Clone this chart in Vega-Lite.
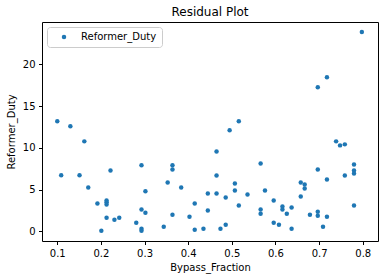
{
  "$schema": "https://vega.github.io/schema/vega-lite/v6.json",
  "width": 336,
  "height": 219,
  "autosize": {"type": "none"},
  "padding": {"left": 42, "top": 22, "right": 5, "bottom": 38},
  "background": "white",
  "title": {"text": "Residual Plot", "fontSize": 12, "fontWeight": "normal", "font": "DejaVu Sans", "color": "#000", "offset": 3},
  "config": {
    "view": {"stroke": "#000", "strokeWidth": 1},
    "axis": {"grid": false, "domain": false, "tickColor": "#000", "tickSize": 3.5, "labelFont": "DejaVu Sans", "labelFontSize": 10, "labelColor": "#000", "titleFont": "DejaVu Sans", "titleFontSize": 10, "titleFontWeight": "normal", "titleColor": "#000", "labelPadding": 3.5},
    "legend": {"orient": "top-left", "offset": 5, "padding": 5, "strokeColor": "#cccccc", "fillColor": "white", "cornerRadius": 3, "labelFont": "DejaVu Sans", "labelFontSize": 10, "labelColor": "#000", "symbolSize": 20, "symbolType": "circle", "symbolOffset": 7, "labelOffset": 12, "title": null}
  },
  "data": {"values": [
    {"Bypass_Fraction": 0.100, "Reformer_Duty": 13.17, "s": "Reformer_Duty"},
    {"Bypass_Fraction": 0.130, "Reformer_Duty": 12.57, "s": "Reformer_Duty"},
    {"Bypass_Fraction": 0.162, "Reformer_Duty": 10.77, "s": "Reformer_Duty"},
    {"Bypass_Fraction": 0.293, "Reformer_Duty": 7.92, "s": "Reformer_Duty"},
    {"Bypass_Fraction": 0.109, "Reformer_Duty": 6.72, "s": "Reformer_Duty"},
    {"Bypass_Fraction": 0.151, "Reformer_Duty": 6.72, "s": "Reformer_Duty"},
    {"Bypass_Fraction": 0.222, "Reformer_Duty": 7.29, "s": "Reformer_Duty"},
    {"Bypass_Fraction": 0.171, "Reformer_Duty": 5.25, "s": "Reformer_Duty"},
    {"Bypass_Fraction": 0.302, "Reformer_Duty": 4.80, "s": "Reformer_Duty"},
    {"Bypass_Fraction": 0.192, "Reformer_Duty": 3.33, "s": "Reformer_Duty"},
    {"Bypass_Fraction": 0.213, "Reformer_Duty": 3.69, "s": "Reformer_Duty"},
    {"Bypass_Fraction": 0.213, "Reformer_Duty": 3.48, "s": "Reformer_Duty"},
    {"Bypass_Fraction": 0.213, "Reformer_Duty": 3.21, "s": "Reformer_Duty"},
    {"Bypass_Fraction": 0.293, "Reformer_Duty": 2.61, "s": "Reformer_Duty"},
    {"Bypass_Fraction": 0.302, "Reformer_Duty": 2.24, "s": "Reformer_Duty"},
    {"Bypass_Fraction": 0.213, "Reformer_Duty": 1.64, "s": "Reformer_Duty"},
    {"Bypass_Fraction": 0.231, "Reformer_Duty": 1.40, "s": "Reformer_Duty"},
    {"Bypass_Fraction": 0.242, "Reformer_Duty": 1.64, "s": "Reformer_Duty"},
    {"Bypass_Fraction": 0.281, "Reformer_Duty": 1.04, "s": "Reformer_Duty"},
    {"Bypass_Fraction": 0.293, "Reformer_Duty": 0.32, "s": "Reformer_Duty"},
    {"Bypass_Fraction": 0.293, "Reformer_Duty": 0.08, "s": "Reformer_Duty"},
    {"Bypass_Fraction": 0.201, "Reformer_Duty": 0.08, "s": "Reformer_Duty"},
    {"Bypass_Fraction": 0.516, "Reformer_Duty": 13.17, "s": "Reformer_Duty"},
    {"Bypass_Fraction": 0.495, "Reformer_Duty": 12.09, "s": "Reformer_Duty"},
    {"Bypass_Fraction": 0.465, "Reformer_Duty": 9.57, "s": "Reformer_Duty"},
    {"Bypass_Fraction": 0.364, "Reformer_Duty": 7.92, "s": "Reformer_Duty"},
    {"Bypass_Fraction": 0.364, "Reformer_Duty": 7.41, "s": "Reformer_Duty"},
    {"Bypass_Fraction": 0.566, "Reformer_Duty": 8.13, "s": "Reformer_Duty"},
    {"Bypass_Fraction": 0.353, "Reformer_Duty": 5.85, "s": "Reformer_Duty"},
    {"Bypass_Fraction": 0.384, "Reformer_Duty": 5.25, "s": "Reformer_Duty"},
    {"Bypass_Fraction": 0.465, "Reformer_Duty": 6.69, "s": "Reformer_Duty"},
    {"Bypass_Fraction": 0.507, "Reformer_Duty": 5.73, "s": "Reformer_Duty"},
    {"Bypass_Fraction": 0.445, "Reformer_Duty": 4.53, "s": "Reformer_Duty"},
    {"Bypass_Fraction": 0.465, "Reformer_Duty": 4.53, "s": "Reformer_Duty"},
    {"Bypass_Fraction": 0.507, "Reformer_Duty": 4.89, "s": "Reformer_Duty"},
    {"Bypass_Fraction": 0.486, "Reformer_Duty": 4.05, "s": "Reformer_Duty"},
    {"Bypass_Fraction": 0.536, "Reformer_Duty": 4.41, "s": "Reformer_Duty"},
    {"Bypass_Fraction": 0.576, "Reformer_Duty": 4.89, "s": "Reformer_Duty"},
    {"Bypass_Fraction": 0.415, "Reformer_Duty": 3.33, "s": "Reformer_Duty"},
    {"Bypass_Fraction": 0.516, "Reformer_Duty": 3.09, "s": "Reformer_Duty"},
    {"Bypass_Fraction": 0.445, "Reformer_Duty": 2.49, "s": "Reformer_Duty"},
    {"Bypass_Fraction": 0.566, "Reformer_Duty": 2.61, "s": "Reformer_Duty"},
    {"Bypass_Fraction": 0.566, "Reformer_Duty": 2.12, "s": "Reformer_Duty"},
    {"Bypass_Fraction": 0.364, "Reformer_Duty": 2.00, "s": "Reformer_Duty"},
    {"Bypass_Fraction": 0.403, "Reformer_Duty": 1.76, "s": "Reformer_Duty"},
    {"Bypass_Fraction": 0.344, "Reformer_Duty": 0.56, "s": "Reformer_Duty"},
    {"Bypass_Fraction": 0.415, "Reformer_Duty": 0.20, "s": "Reformer_Duty"},
    {"Bypass_Fraction": 0.435, "Reformer_Duty": 0.32, "s": "Reformer_Duty"},
    {"Bypass_Fraction": 0.474, "Reformer_Duty": 0.32, "s": "Reformer_Duty"},
    {"Bypass_Fraction": 0.486, "Reformer_Duty": 0.80, "s": "Reformer_Duty"},
    {"Bypass_Fraction": 0.739, "Reformer_Duty": 10.77, "s": "Reformer_Duty"},
    {"Bypass_Fraction": 0.748, "Reformer_Duty": 10.29, "s": "Reformer_Duty"},
    {"Bypass_Fraction": 0.759, "Reformer_Duty": 10.41, "s": "Reformer_Duty"},
    {"Bypass_Fraction": 0.780, "Reformer_Duty": 8.01, "s": "Reformer_Duty"},
    {"Bypass_Fraction": 0.697, "Reformer_Duty": 7.41, "s": "Reformer_Duty"},
    {"Bypass_Fraction": 0.780, "Reformer_Duty": 7.29, "s": "Reformer_Duty"},
    {"Bypass_Fraction": 0.780, "Reformer_Duty": 6.93, "s": "Reformer_Duty"},
    {"Bypass_Fraction": 0.759, "Reformer_Duty": 6.69, "s": "Reformer_Duty"},
    {"Bypass_Fraction": 0.718, "Reformer_Duty": 6.21, "s": "Reformer_Duty"},
    {"Bypass_Fraction": 0.658, "Reformer_Duty": 5.85, "s": "Reformer_Duty"},
    {"Bypass_Fraction": 0.667, "Reformer_Duty": 5.61, "s": "Reformer_Duty"},
    {"Bypass_Fraction": 0.667, "Reformer_Duty": 5.13, "s": "Reformer_Duty"},
    {"Bypass_Fraction": 0.658, "Reformer_Duty": 4.17, "s": "Reformer_Duty"},
    {"Bypass_Fraction": 0.596, "Reformer_Duty": 3.69, "s": "Reformer_Duty"},
    {"Bypass_Fraction": 0.616, "Reformer_Duty": 2.97, "s": "Reformer_Duty"},
    {"Bypass_Fraction": 0.616, "Reformer_Duty": 2.61, "s": "Reformer_Duty"},
    {"Bypass_Fraction": 0.637, "Reformer_Duty": 2.85, "s": "Reformer_Duty"},
    {"Bypass_Fraction": 0.626, "Reformer_Duty": 2.12, "s": "Reformer_Duty"},
    {"Bypass_Fraction": 0.679, "Reformer_Duty": 2.00, "s": "Reformer_Duty"},
    {"Bypass_Fraction": 0.697, "Reformer_Duty": 2.36, "s": "Reformer_Duty"},
    {"Bypass_Fraction": 0.697, "Reformer_Duty": 1.88, "s": "Reformer_Duty"},
    {"Bypass_Fraction": 0.718, "Reformer_Duty": 1.76, "s": "Reformer_Duty"},
    {"Bypass_Fraction": 0.780, "Reformer_Duty": 3.09, "s": "Reformer_Duty"},
    {"Bypass_Fraction": 0.596, "Reformer_Duty": 1.04, "s": "Reformer_Duty"},
    {"Bypass_Fraction": 0.608, "Reformer_Duty": 0.80, "s": "Reformer_Duty"},
    {"Bypass_Fraction": 0.637, "Reformer_Duty": 0.32, "s": "Reformer_Duty"},
    {"Bypass_Fraction": 0.709, "Reformer_Duty": 0.56, "s": "Reformer_Duty"},
    {"Bypass_Fraction": 0.798, "Reformer_Duty": 23.85, "s": "Reformer_Duty"},
    {"Bypass_Fraction": 0.718, "Reformer_Duty": 18.45, "s": "Reformer_Duty"},
    {"Bypass_Fraction": 0.697, "Reformer_Duty": 17.25, "s": "Reformer_Duty"}
  ]},
  "mark": {"type": "point", "filled": true, "opacity": 1, "size": 20, "shape": "circle"},
  "encoding": {
    "x": {"field": "Bypass_Fraction", "type": "quantitative", "scale": {"domain": [0.065, 0.835], "nice": false, "zero": false},
          "axis": {"values": [0.1, 0.2, 0.3, 0.4, 0.5, 0.6, 0.7, 0.8], "format": ".1f", "title": "Bypass_Fraction", "titlePadding": 4}},
    "y": {"field": "Reformer_Duty", "type": "quantitative", "scale": {"domain": [-1.15, 25.05], "nice": false, "zero": false},
          "axis": {"values": [0, 5, 10, 15, 20], "format": "d", "title": "Reformer_Duty", "titlePadding": 6}},
    "color": {"field": "s", "type": "nominal", "scale": {"range": ["#1f77b4"]}, "legend": {"title": null}}
  }
}
